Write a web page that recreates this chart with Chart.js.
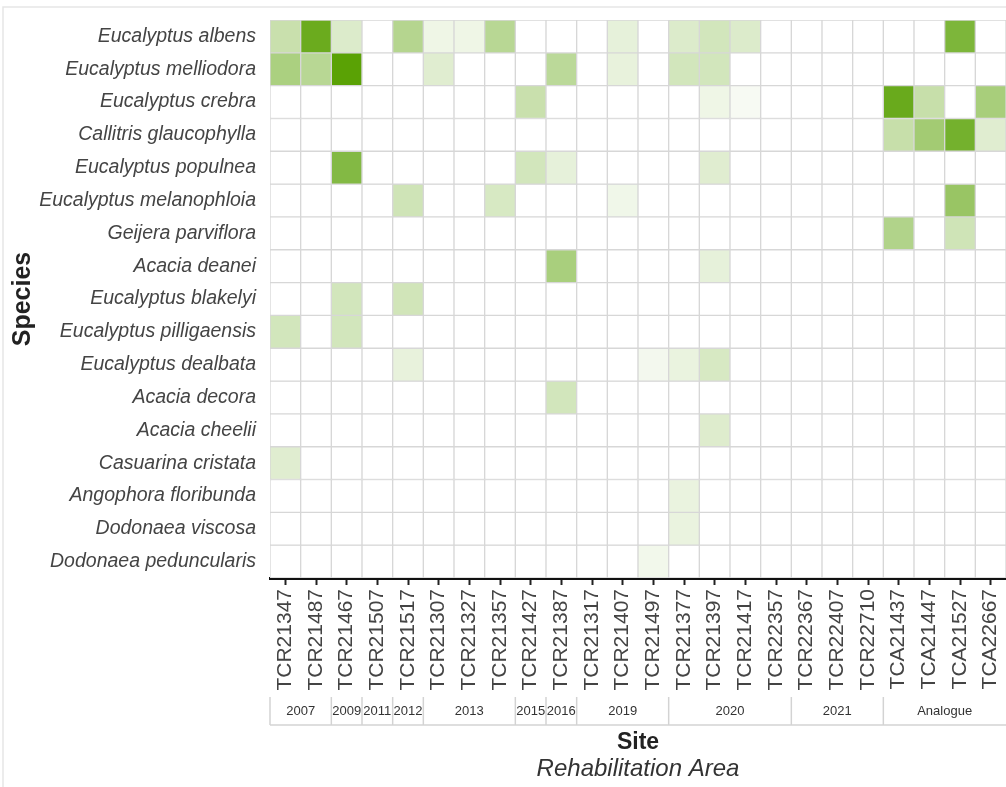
<!DOCTYPE html>
<html><head><meta charset="utf-8">
<script src="https://cdn.jsdelivr.net/npm/chart.js@4.4.1/dist/chart.umd.min.js"></script>
<style>html,body{margin:0;padding:0;background:#fff;} #wrap{width:1006px;height:787px;position:relative;}</style>
</head><body><div id="wrap"><canvas id="c"></canvas></div>
<script>
// ---- Data ----
const species = ['Eucalyptus albens','Eucalyptus melliodora','Eucalyptus crebra','Callitris glaucophylla','Eucalyptus populnea','Eucalyptus melanophloia','Geijera parviflora','Acacia deanei','Eucalyptus blakelyi','Eucalyptus pilligaensis','Eucalyptus dealbata','Acacia decora','Acacia cheelii','Casuarina cristata','Angophora floribunda','Dodonaea viscosa','Dodonaea peduncularis'];
const sites = ['TCR21347','TCR21487','TCR21467','TCR21507','TCR21517','TCR21307','TCR21327','TCR21357','TCR21427','TCR21387','TCR21317','TCR21407','TCR21497','TCR21377','TCR21397','TCR21417','TCR22357','TCR22367','TCR22407','TCR22710','TCA21437','TCA21447','TCA21527','TCA22667'];
const groupLabels = ['2007','2009','2011','2012','2013','2015','2016','2019','2020','2021','Analogue'];
const groupSizes  = [2,1,1,1,3,1,1,3,4,3,4];
// relative abundance (0-100) per site, in site order
const eAlbens        = [33,90,21,0,45,10,10,43,0,0,0,15,0,21,27,21,0,0,0,0,0,0,79,0];
const eMelliodora    = [51,43,100,0,0,19,0,0,0,41,0,14,0,27,27,0,0,0,0,0,0,0,0,0];
const eCrebra        = [0,0,0,0,0,0,0,0,33,0,0,0,0,0,10,5,0,0,0,0,91,34,0,53];
const cGlaucophylla  = [0,0,0,0,0,0,0,0,0,0,0,0,0,0,0,0,0,0,0,0,34,56,84,19];
const ePopulnea      = [0,0,75,0,0,0,0,0,27,15,0,0,0,0,19,0,0,0,0,0,0,0,0,0];
const eMelanophloia  = [0,0,0,0,29,0,0,24,0,0,0,9,0,0,0,0,0,0,0,0,0,0,62,0];
const gParviflora    = [0,0,0,0,0,0,0,0,0,0,0,0,0,0,0,0,0,0,0,0,47,0,29,0];
const aDeanei        = [0,0,0,0,0,0,0,0,0,52,0,0,0,0,15,0,0,0,0,0,0,0,0,0];
const eBlakelyi      = [0,0,27,0,28,0,0,0,0,0,0,0,0,0,0,0,0,0,0,0,0,0,0,0];
const ePilligaensis  = [27,0,27,0,0,0,0,0,0,0,0,0,0,0,0,0,0,0,0,0,0,0,0,0];
const eDealbata      = [0,0,0,0,14,0,0,0,0,0,0,0,7,13,24,0,0,0,0,0,0,0,0,0];
const aDecora        = [0,0,0,0,0,0,0,0,0,27,0,0,0,0,0,0,0,0,0,0,0,0,0,0];
const aCheelii       = [0,0,0,0,0,0,0,0,0,0,0,0,0,0,20,0,0,0,0,0,0,0,0,0];
const cCristata      = [19,0,0,0,0,0,0,0,0,0,0,0,0,0,0,0,0,0,0,0,0,0,0,0];
const aFloribunda    = [0,0,0,0,0,0,0,0,0,0,0,0,0,13,0,0,0,0,0,0,0,0,0,0];
const dViscosa       = [0,0,0,0,0,0,0,0,0,0,0,0,0,13,0,0,0,0,0,0,0,0,0,0];
const dPeduncularis  = [0,0,0,0,0,0,0,0,0,0,0,0,8,0,0,0,0,0,0,0,0,0,0,0];
const values = [eAlbens,eMelliodora,eCrebra,cGlaucophylla,ePopulnea,eMelanophloia,gParviflora,aDeanei,eBlakelyi,ePilligaensis,eDealbata,aDecora,aCheelii,cCristata,aFloribunda,dViscosa,dPeduncularis];

// ---- Styling ----
const FONT = '"Liberation Sans", Arial, Helvetica, sans-serif';
Chart.defaults.font.family = FONT;
const LOW = [255,255,255], HIGH = [90,162,5];
function cellColor(v){
  const t = Math.max(0, Math.min(1, v/100));
  const c = LOW.map((l,i)=>Math.round(l + (HIGH[i]-l)*t));
  return `rgb(${c[0]},${c[1]},${c[2]})`;
}

const decor = {
  id:'decor',
  beforeDraw(chart){
    const ctx = chart.ctx;
    ctx.save();
    ctx.strokeStyle = '#e6e6e6'; ctx.lineWidth = 1.5;
    ctx.beginPath(); ctx.moveTo(3, chart.height); ctx.lineTo(3, 7); ctx.lineTo(chart.width, 7); ctx.stroke();
    ctx.restore();
  },
  afterDraw(chart){
    const ctx = chart.ctx, xs = chart.scales.x, ca = chart.chartArea;
    const colW = (ca.right - ca.left) / sites.length;
    const top = xs.bottom - 1, bot = xs.bottom + 27;
    ctx.save();
    ctx.strokeStyle = '#d3d3d3'; ctx.lineWidth = 1.5;
    ctx.beginPath(); ctx.moveTo(ca.left, bot); ctx.lineTo(ca.right, bot); ctx.stroke();
    let k = 0;
    ctx.fillStyle = '#333'; ctx.font = '13px ' + FONT; ctx.textAlign = 'center'; ctx.textBaseline = 'middle';
    groupLabels.forEach((g, gi) => {
      const x0 = xs.getPixelForValue(k) - colW/2;
      const x1 = xs.getPixelForValue(k + groupSizes[gi] - 1) + colW/2;
      ctx.beginPath(); ctx.moveTo(x0, top); ctx.lineTo(x0, bot); ctx.stroke();
      ctx.fillText(g, (x0 + x1)/2, (top + bot)/2);
      k += groupSizes[gi];
    });
    const cx = (ca.left + ca.right)/2;
    ctx.fillStyle = '#222';
    ctx.font = 'bold 23px ' + FONT;
    ctx.fillText('Site', cx, bot + 18);
    ctx.fillStyle = '#333';
    ctx.font = 'italic 24px ' + FONT;
    ctx.fillText('Rehabilitation Area', cx, bot + 44);
    ctx.restore();
  }
};

new Chart(document.getElementById('c'), {
  type: 'bar',
  data: {
    labels: sites,
    datasets: species.map((name, i) => ({
      label: name,
      data: sites.map(() => [i, i + 1]),
      backgroundColor: values[i].map(cellColor),
      borderColor: '#d7d7d7',
      borderWidth: 1,
      borderSkipped: false,
      grouped: false,
      barPercentage: 1,
      categoryPercentage: 1
    }))
  },
  options: {
    responsive: true,
    maintainAspectRatio: false,
    animation: false,
    layout: { padding: { top: 20, left: 0, right: 0, bottom: 89 } },
    plugins: { legend: { display: false }, tooltip: { enabled: false } },
    scales: {
      x: {
        type: 'category', offset: true, z: 1,
        grid: { display: true, drawOnChartArea: false, offset: false, tickLength: 7, tickColor: '#222', tickWidth: 2 },
        border: { display: true, color: '#111', width: 3 },
        ticks: { minRotation: 90, maxRotation: 90, autoSkip: false, padding: 4, color: '#444', font: { size: 21 } },
        afterFit(s){ s.height = 120; s.paddingLeft = 0; s.paddingRight = 0; }
      },
      y: {
        type: 'linear', min: 0, max: 17, reverse: true,
        grid: { display: false }, border: { display: false },
        afterBuildTicks(s){ s.ticks = species.map((_, i) => ({ value: i + 0.5 })); },
        ticks: { autoSkip: false, padding: 6, color: '#444', font: { size: 19.5, style: 'italic' },
                 callback: (v, idx) => species[idx] },
        title: { display: true, text: 'Species', color: '#222', font: { size: 25, weight: 'bold' }, padding: { top: 8, bottom: 0 } },
        afterFit(s){ s.width = 270; }
      }
    }
  },
  plugins: [decor]
});
</script>
</body></html>
